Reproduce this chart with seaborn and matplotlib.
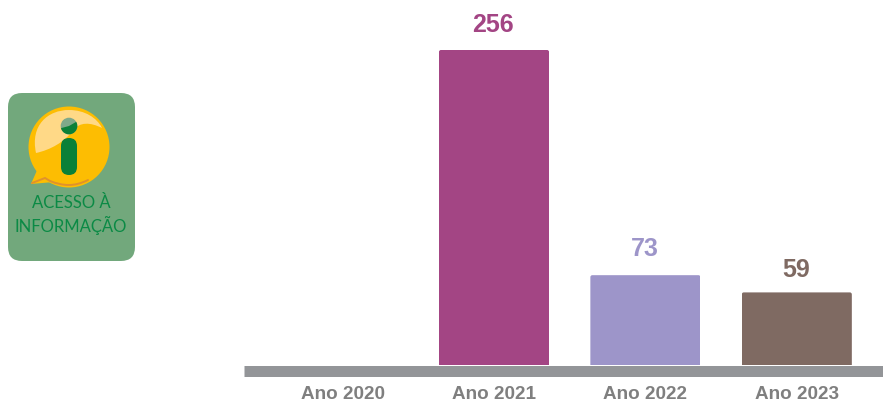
import numpy as np
import pandas as pd
import matplotlib
matplotlib.use("Agg")
import matplotlib.pyplot as plt
from matplotlib.patches import Circle, FancyBboxPatch, Polygon, Wedge, PathPatch
from matplotlib.path import Path
import seaborn as sns

categories = ["Ano 2020", "Ano 2021", "Ano 2022", "Ano 2023"]
values = [np.nan, 256, 73, 59]
bar_colors = ["#A34584", "#A34584", "#9D95C9", "#7F6A62"]
label_offsets = {256: 9.2, 73: 10.4, 59: 7.8}

W, H = 883, 401
GREY = "#7F7F7F"
BAND = "#939598"
FONT = ["Liberation Sans", "DejaVu Sans"]

sns.set_theme(style="white")
plt.rcParams["font.family"] = FONT

fig = plt.figure(figsize=(W / 100, H / 100), dpi=100, facecolor="white")
ax = fig.add_axes([244 / W, 1 - 365 / H, (W - 244) / W, 365 / H])
ax.patch.set_alpha(0)

df = pd.DataFrame({"periodo": categories, "total": values})
sns.barplot(data=df, x="periodo", y="total", hue="periodo", order=categories,
            hue_order=categories, palette=dict(zip(categories, bar_colors)),
            width=0.727, gap=0, legend=False, saturation=1, ax=ax, linewidth=0)

ax.set_xlim((244 - 342.6) / 151.4, (883 - 342.6) / 151.4)
ax.set_ylim(0, 365 / 315 * 256)
ax.set_xlabel("")
ax.set_ylabel("")
ax.set_yticks([])
for s in ["left", "right", "top"]:
    ax.spines[s].set_visible(False)
sp = ax.spines["bottom"]
sp.set_color(BAND)
sp.set_linewidth(11 * 0.72)
sp.set_capstyle("butt")
sp.set_position(("outward", 6.4 * 0.72))
ax.tick_params(axis="x", length=0, pad=10.2)
for t in ax.get_xticklabels():
    t.set_fontsize(13.6)
    t.set_fontweight("bold")
    t.set_color(GREY)
    t.set_fontfamily(FONT)

for c in ax.containers:
    for bar in c:
        h = bar.get_height()
        if np.isnan(h) or h == 0:
            continue
        ax.annotate(f"{int(h)}", (bar.get_x() + bar.get_width() / 2, h),
                    xytext=(-0.5, label_offsets[int(h)]), textcoords="offset points",
                    ha="center", va="bottom",
                    fontsize=18, fontweight="bold", color=bar.get_facecolor(), family=FONT)

# overlay in pixel coordinates for the logo and rounded bar corners
ov = fig.add_axes([0, 0, 1, 1], zorder=5)
ov.set_xlim(0, W)
ov.set_ylim(H, 0)
ov.axis("off")
ov.patch.set_alpha(0)

fig.canvas.draw()
for c in ax.containers:
    for bar in c:
        h = bar.get_height()
        if np.isnan(h) or h == 0:
            continue
        bb = bar.get_window_extent()
        r = 2
        clip = FancyBboxPatch((bb.x0 + r, bb.y0 - 10), bb.width - 2 * r, bb.height + 10 - r,
                              boxstyle=f"round,pad={r},rounding_size={r}",
                              transform=None)
        bar.set_clip_path(clip)

# logo
ov.add_patch(FancyBboxPatch((8 + 14, 93 + 14), 127 - 28, 168 - 28,
                            boxstyle="round,pad=14,rounding_size=14",
                            fc="#72A87C", ec="none"))
YEL = "#FDBD02"
cx, cy, R = 69, 147, 40.5
ov.add_patch(Polygon([[38, 168], [31, 184], [54, 182]], closed=True, fc=YEL, ec="none"))
ov.add_patch(Circle((cx, cy), R, fc=YEL, ec="none"))
# light highlight
verts = [(36, 153), (30, 125), (48, 110), (69, 110), (85, 110), (97, 118), (102, 128),
         (90, 122), (80, 122), (73, 130), (65, 142), (50, 150), (36, 153)]
codes = [Path.MOVETO] + [Path.CURVE4] * 12
ov.add_patch(PathPatch(Path(verts, codes), fc="#FFD987", ec="none"))
# orange lower rim
ov.add_patch(PathPatch(Path([(32, 183), (45, 178), (50, 181), (63, 186), (74, 187), (88, 180)],
                            [Path.MOVETO, Path.LINETO, Path.LINETO, Path.CURVE4, Path.CURVE4, Path.CURVE4]),
                       fc="none", ec="#E0922C", lw=1.4, capstyle="round"))
# letter i
GREEN = "#0B8038"
ov.add_patch(Circle((69, 126), 8.3, fc="#7FA98A", ec="none"))
ov.add_patch(Wedge((69, 126), 8.3, -30, 165, fc=GREEN, ec="none"))
ov.add_patch(FancyBboxPatch((61 + 8, 138 + 8), 0.01, 21, boxstyle="round,pad=8,rounding_size=8",
                            fc=GREEN, ec="none"))
ov.text(71, 203, "ACESSO À", ha="center", va="center", fontsize=12, color="#0B8A45",
        family=["Lato", "DejaVu Sans"])
ov.text(71, 225, "INFORMAÇÃO", ha="center", va="center", fontsize=12, color="#0B8A45",
        family=["Lato", "DejaVu Sans"])

fig.savefig("out.png", dpi=100, facecolor="white")
